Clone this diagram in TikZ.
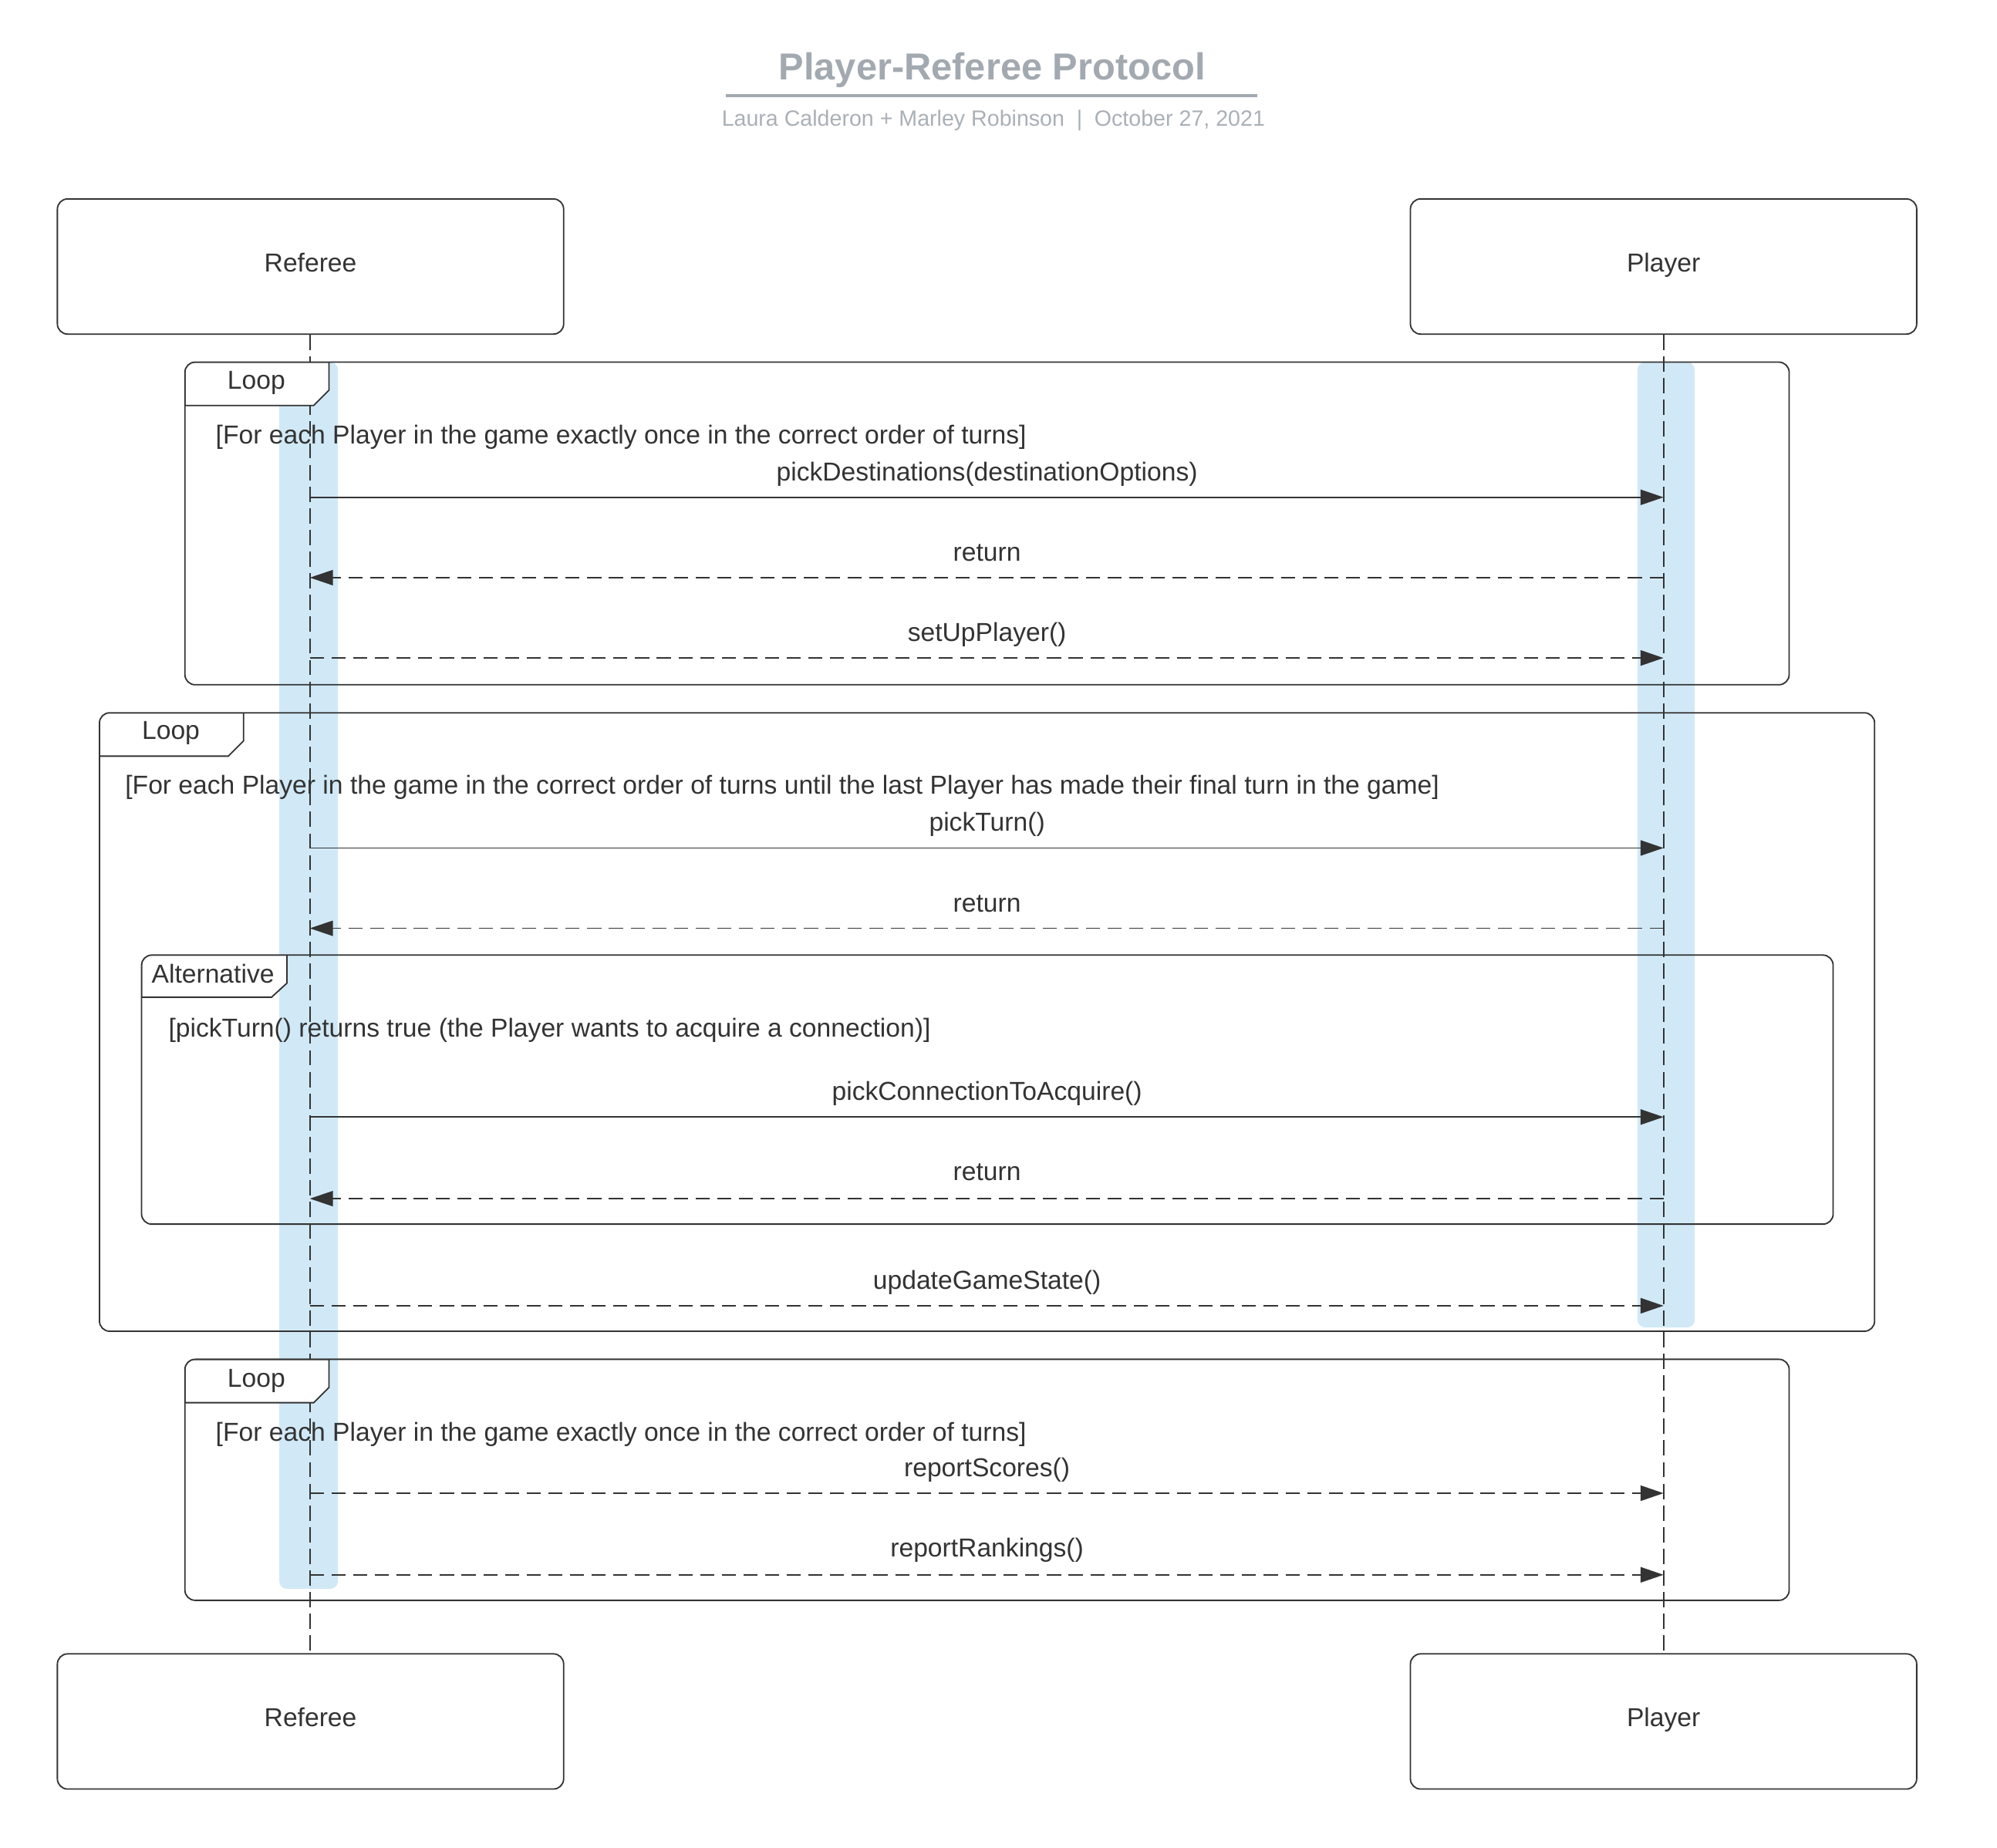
\documentclass[tikz,border=0pt]{standalone}
\usepackage{fontspec}
\setmainfont{Liberation Sans}
\usetikzlibrary{arrows.meta}
\definecolor{ink}{RGB}{51,51,51}
\definecolor{actbar}{RGB}{209,233,246}
\definecolor{titlegray}{RGB}{163,169,176}
\definecolor{subgray}{RGB}{170,176,183}
\newcommand\fsz[1]{\fontsize{#1}{#1}\selectfont}
\begin{document}
\begin{tikzpicture}[x=1pt,y=-1pt,
  lifebox/.style={draw=ink, line width=1.1pt, rounded corners=8pt, minimum width=397pt, minimum height=106pt, font=\fsz{20.35}, text=ink, inner sep=0pt, text height=14pt, text depth=6pt},
  lifeline/.style={draw=ink, line width=1.1pt, dash pattern=on 12pt off 5pt},
  lbl/.style={font=\fsz{20.35}, text=ink, inner sep=0pt, anchor=base},
  guard/.style={font=\fsz{20.35}, text=ink, inner sep=0pt, anchor=base west},
  frameline/.style={draw=ink, line width=1.1pt, rounded corners=8pt},
  hdr/.style={fill=white, draw=ink, line width=1.1pt},
  call/.style={draw=ink, line width=1pt, -{Triangle[length=18pt,width=12pt]}},
  ret/.style={draw=ink, line width=0.75pt, dash pattern=on 11pt off 6pt, -{Triangle[length=18pt,width=12pt]}},
  async/.style={draw=ink, line width=1.2pt, dash pattern=on 11pt off 6pt, -{Triangle[length=18pt,width=12pt]}},
]
\useasboundingbox (0,0) rectangle (1566,1449);

% title
\node[anchor=base, font=\fsz{29.5}\bfseries, text=titlegray, inner sep=0pt] (title) at (778,62.5) {Player-Referee Protocol};
\coordinate (ulA) at (569,75);
\coordinate (ulB) at (986,75);
\draw[titlegray, line width=2.5pt] (ulA) -- (ulB);
\node[anchor=base, font=\fsz{17.3}, text=subgray, inner sep=0pt] (sub) at (779,99) {Laura Calderon + Marley Robinson\hspace{0.55em}|\hspace{0.55em}October 27, 2021};

% lifeline boxes
\node[lifebox] (reftop) at (243.5,209) {Referee};
\node[lifebox] (plytop) at (1304.5,209) {Player};
\node[lifebox] (refbot) at (243.5,1350) {Referee};
\node[lifebox] (plybot) at (1304.5,1350) {Player};

% activation bars
\fill[actbar, rounded corners=6pt] (219,284) rectangle (265,1246);
\fill[actbar, rounded corners=6pt] (1284,284) rectangle (1329,1041);

% lifelines
\draw[lifeline] (reftop.south -| 243,0) -- (refbot.north -| 243,0);
\draw[lifeline] (plytop.south) -- (plybot.north);

% frame 1 (Loop)
\begin{scope}
\clip[rounded corners=8pt] (145,284) rectangle (1403,537);
\filldraw[hdr] (145,284) -- (258,284) -- (258,306) -- (246,318) -- (145,318) -- cycle;
\end{scope}
\draw[frameline] (145,284) rectangle (1403,537);
\node[font=\fsz{20.35}, text=ink, inner sep=0pt, anchor=base] (h1) at (201,305) {Loop};

% frame 2 (Loop)
\begin{scope}
\clip[rounded corners=8pt] (78,559) rectangle (1470,1044);
\filldraw[hdr] (78,559) -- (191,559) -- (191,581) -- (179,593) -- (78,593) -- cycle;
\end{scope}
\draw[frameline] (78,559) rectangle (1470,1044);
\node[font=\fsz{20.35}, text=ink, inner sep=0pt, anchor=base] (h2) at (134,580) {Loop};

% frame 3 (Alternative)
\begin{scope}
\clip[rounded corners=8pt] (111,749) rectangle (1437.5,960);
\filldraw[hdr] (111,749) -- (225,749) -- (225,771) -- (213,782) -- (111,782) -- cycle;
\end{scope}
\draw[frameline] (111,749) rectangle (1437.5,960);
\node[font=\fsz{20.35}, text=ink, inner sep=0pt, anchor=base] (h3) at (167,771) {Alternative};

% frame 4 (Loop)
\begin{scope}
\clip[rounded corners=8pt] (145,1066) rectangle (1403,1255);
\filldraw[hdr] (145,1066) -- (258,1066) -- (258,1088) -- (246,1100) -- (145,1100) -- cycle;
\end{scope}
\draw[frameline] (145,1066) rectangle (1403,1255);
\node[font=\fsz{20.35}, text=ink, inner sep=0pt, anchor=base] (h4) at (201,1088) {Loop};

% guards
\node[guard] (g1) at (169,348) {[For each Player in the game exactly once in the correct order of turns]};
\node[guard] (g2) at (98,623) {[For each Player in the game in the correct order of turns until the last Player has made their final turn in the game]};
\node[guard] (g3) at (132,813) {[pickTurn() returns true (the Player wants to acquire a connection)]};
\node[guard] (g4) at (169,1130) {[For each Player in the game exactly once in the correct order of turns]};

% message end points
\foreach \n/\y in {A/390,B/453,C/516,D/665,E/728,F/876,G/940,H/1024,I/1171,J/1235}{
  \coordinate (r\n) at (243,\y);
  \coordinate (p\n) at (1304.5,\y);
}

% messages
\draw[call]  (rA) -- (pA);
\node[lbl] (mA) at (774,377) {pickDestinations(destinationOptions)};
\draw[ret]   (pB) -- (rB);
\node[lbl] (mB) at (774,440) {return};
\draw[async] (rC) -- (pC);
\node[lbl] (mC) at (774,503) {setUpPlayer()};

\draw[call]  (rD) -- (pD);
\node[lbl] (mD) at (774,652) {pickTurn()};
\draw[ret]   (pE) -- (rE);
\node[lbl] (mE) at (774,715) {return};

\draw[call]  (rF) -- (pF);
\node[lbl] (mF) at (774,863) {pickConnectionToAcquire()};
\draw[ret]   (pG) -- (rG);
\node[lbl] (mG) at (774,926) {return};

\draw[async] (rH) -- (pH);
\node[lbl] (mH) at (774,1011) {updateGameState()};

\draw[async] (rI) -- (pI);
\node[lbl] (mI) at (774,1158) {reportScores()};
\draw[async] (rJ) -- (pJ);
\node[lbl] (mJ) at (774,1221) {reportRankings()};
\end{tikzpicture}
\end{document}
